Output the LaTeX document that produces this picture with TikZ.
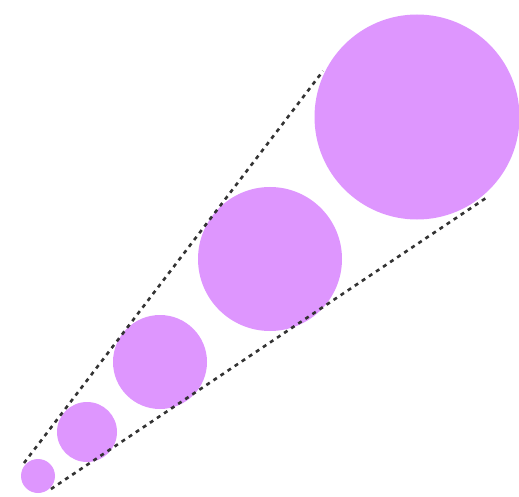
\documentclass[tikz,border=0pt]{standalone}
\definecolor{ball}{RGB}{222,150,254}
\begin{document}
\begin{tikzpicture}[x=1pt,y=-1pt,
  ballstyle/.style={circle,fill=ball,draw=none,inner sep=0pt,minimum size=#1},
  tangent/.style={draw=black!80,line width=2.6pt,dash pattern=on 4pt off 4.5pt}]
\useasboundingbox (0,0) rectangle (519,497);
\node[ballstyle=34pt]  (c1) at (38,476) {};
\node[ballstyle=60pt]  (c2) at (87,432) {};
\node[ballstyle=94pt]  (c3) at (160,362) {};
\node[ballstyle=144pt] (c4) at (270,259) {};
\node[ballstyle=205pt] (c5) at (417,117) {};
\coordinate (u1) at (24,463);
\coordinate (u5) at (323,71);
\coordinate (l1) at (51,489);
\coordinate (l5) at (486,198);
\draw[tangent] (u1) -- (u5);
\draw[tangent] (l1) -- (l5);
\end{tikzpicture}
\end{document}
